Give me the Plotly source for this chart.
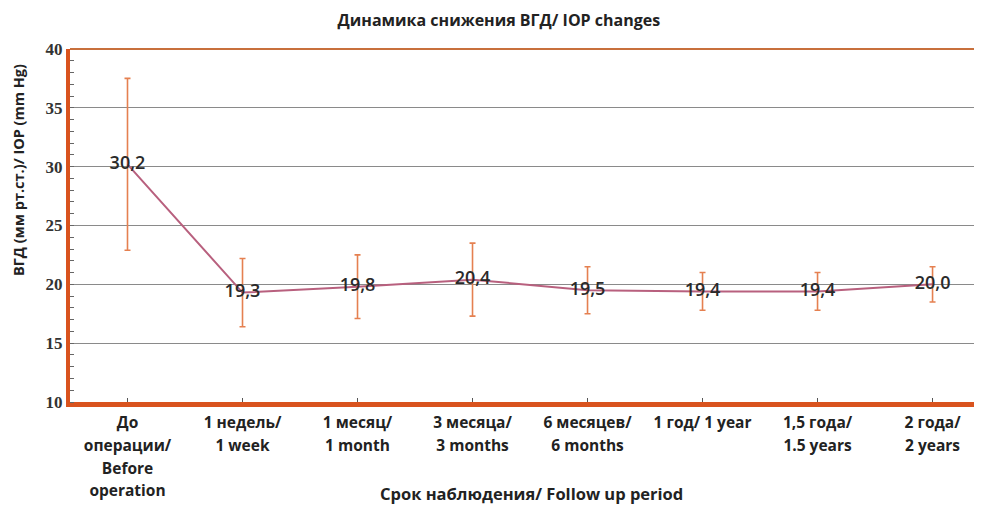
import plotly.graph_objects as go

categories = [["До", "операции/", "Before", "operation"], ["1 недель/", "1 week"], ["1 месяц/", "1 month"],
              ["3 месяца/", "3 months"], ["6 месяцев/", "6 months"], ["1 год/ 1 year"],
              ["1,5 года/", "1.5 years"], ["2 года/", "2 years"]]
iop_mean = [30.2, 19.3, 19.8, 20.4, 19.5, 19.4, 19.4, 20.0]
iop_sd = [7.3, 2.9, 2.7, 3.1, 2.0, 1.6, 1.6, 1.5]
value_labels = ["30,2", "19,3", "19,8", "20,4", "19,5", "19,4", "19,4", "20,0"]
y_ticks = [10, 15, 20, 25, 30, 35, 40]

axis_color = "#d9531e"
sans = "Open Sans, Lato, sans-serif"

ticktext = ["<br>".join('<span style="font-size:15.5px">%s</span>' % ln for ln in c) for c in categories]

fig = go.Figure()
fig.add_trace(go.Scatter(
    x=list(range(len(categories))), y=iop_mean,
    mode="lines+text",
    line=dict(color="#b8607e", width=2),
    text=value_labels, textposition="middle center",
    textfont=dict(family=sans, size=18, color="#2a2a2a", weight=600),
    error_y=dict(type="data", array=iop_sd, visible=True, color="#e58050", thickness=1.6, width=3),
    showlegend=False,
))

fig.update_layout(
    width=974, height=500,
    margin=dict(l=62, r=0, t=41, b=106),
    paper_bgcolor="white", plot_bgcolor="white",
    title=dict(text="Динамика снижения ВГД/ IOP changes", x=0.504, xanchor="center",
               yref="container", y=0.976, yanchor="middle",
               font=dict(family=sans, size=16, color="#222222", weight="bold")),
    xaxis=dict(
        range=[-0.5, 7.43], automargin=False,
        tickmode="array", tickvals=list(range(len(categories))), ticktext=ticktext,
        tickfont=dict(family=sans, size=17.5, color="#222222", weight="bold"),
        showline=True, linecolor=axis_color, linewidth=5,
        ticks="inside", ticklen=4, tickcolor="#555555",
        showgrid=False, zeroline=False,
    ),
    yaxis=dict(
        range=[10, 40], tickvals=y_ticks, automargin=False,
        tickfont=dict(family="Liberation Serif, serif", size=17, color="#333333", weight="bold"),
        showline=True, linecolor=axis_color, linewidth=4,
        ticks="", showgrid=True, gridcolor="#8a8a8a", gridwidth=1.2, zeroline=False,
        minor=dict(dtick=1, ticks="inside", ticklen=4, tickcolor="#666666", showgrid=False),
    ),
    annotations=[
        dict(text="ВГД (мм рт.ст.)/ IOP (mm Hg)", textangle=-90, xref="paper", yref="paper",
             x=-0.057, y=0.657, xanchor="center", yanchor="middle", showarrow=False,
             font=dict(family=sans, size=14.5, color="#222222", weight="bold")),
        dict(text="Срок наблюдения/ Follow up period", xref="paper", yref="paper",
             x=0.5055, y=-0.2606, xanchor="center", yanchor="middle", showarrow=False,
             font=dict(family=sans, size=16.5, color="#222222", weight="bold")),
    ],
    shapes=[dict(type="line", xref="paper", yref="paper", x0=0, x1=1, y0=1, y1=1,
                 line=dict(color="#c8703c", width=2))],
)

fig.write_html("out.html")
